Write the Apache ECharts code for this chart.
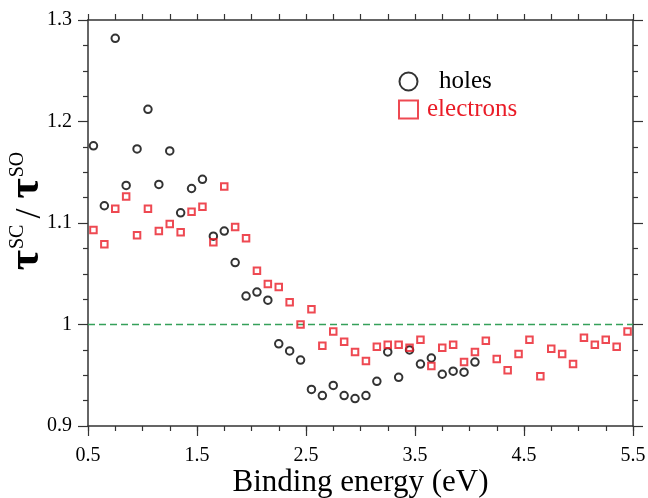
<!DOCTYPE html>
<html>
<head>
<meta charset="utf-8">
<script src="https://cdn.jsdelivr.net/npm/echarts@6/dist/echarts.min.js"></script>
<style>
  html, body { margin: 0; padding: 0; background: #fff; }
  #chart { width: 648px; height: 498px; }
</style>
</head>
<body>
<div id="chart"></div>
<script>
// binding energies (eV)
const holesX = [0.55, 0.65, 0.75, 0.85, 0.95, 1.05, 1.15, 1.25, 1.35, 1.45, 1.55, 1.65,
  1.75, 1.85, 1.95, 2.05, 2.15, 2.25, 2.35, 2.45, 2.55, 2.65, 2.75, 2.85, 2.95, 3.05,
  3.15, 3.25, 3.35, 3.45, 3.55, 3.65, 3.75, 3.85, 3.95, 4.05]
const holesY = [1.176, 1.117, 1.282, 1.137, 1.173, 1.212, 1.138, 1.171, 1.110, 1.134, 1.143, 1.087,
  1.092, 1.061, 1.028, 1.032, 1.024, 0.981, 0.974, 0.965, 0.936, 0.930, 0.940, 0.930, 0.927, 0.930,
  0.944, 0.973, 0.948, 0.975, 0.961, 0.967, 0.951, 0.954, 0.953, 0.963]

const electronsX = [0.55, 0.65, 0.75, 0.85, 0.95, 1.05, 1.15, 1.25, 1.35, 1.45, 1.55, 1.65,
  1.75, 1.85, 1.95, 2.05, 2.15, 2.25, 2.35, 2.45, 2.55, 2.65, 2.75, 2.85, 2.95, 3.05,
  3.15, 3.25, 3.35, 3.45, 3.55, 3.65, 3.75, 3.85, 3.95, 4.05, 4.15, 4.25, 4.35, 4.45,
  4.55, 4.65, 4.75, 4.85, 4.95, 5.05, 5.15, 5.25, 5.35, 5.45]
const electronsY = [1.093, 1.079, 1.114, 1.126, 1.088, 1.114, 1.092, 1.099, 1.091, 1.111, 1.116, 1.081,
  1.136, 1.096, 1.085, 1.053, 1.040, 1.037, 1.022, 1.000, 1.015, 0.979, 0.993, 0.983, 0.973, 0.964,
  0.978, 0.980, 0.980, 0.977, 0.985, 0.959, 0.977, 0.980, 0.963, 0.973, 0.984, 0.966, 0.955, 0.971,
  0.985, 0.949, 0.976, 0.971, 0.961, 0.987, 0.980, 0.985, 0.978, 0.993]

// reference line at 1
const refX = [0.5, 5.5]
const refY = [1, 1]

const xLabels = [0.5, 1.5, 2.5, 3.5, 4.5, 5.5]

const serif = '"Liberation Serif", "DejaVu Serif", serif'
const red = '#ea1c27'
const frameColor = '#666'
const tickColor = '#333'

const chart = echarts.init(document.getElementById('chart'))

const tick = (len) => ({ show: true, length: len, lineStyle: { color: tickColor, width: 1.2 } })

const option = {
  animation: false,
  backgroundColor: '#fff',
  grid: {
    left: 88,
    right: 15,
    top: 20,
    bottom: 72,
    outerBoundsMode: 'none',
    containLabel: false
  },
  legend: {
    orient: 'vertical',
    left: 398,
    top: 69,
    padding: 0,
    itemGap: 3,
    itemWidth: 19,
    itemHeight: 18,
    textStyle: {
      fontFamily: serif,
      fontSize: 25
    },
    data: [
      { name: 'holes', textStyle: { color: '#000', padding: [0, 0, 0, 16] } },
      { name: 'electrons', textStyle: { color: red, padding: [0, 0, 0, 4] } }
    ]
  },
  graphic: [
    {
      type: 'text',
      x: 27,
      y: 208,
      rotation: Math.PI / 2,
      style: {
        text: '{t|τ}{s|SC}{d|/}{t|τ}{s|SO}',
        align: 'center',
        verticalAlign: 'middle',
        rich: {
          t: { fontFamily: serif, fontWeight: 'bold', fontSize: 44, fill: '#000', lineHeight: 44, verticalAlign: 'bottom' },
          s: { fontFamily: serif, fontSize: 20, fill: '#000', lineHeight: 44, verticalAlign: 'top', padding: [3, 6, 0, 1] },
          d: { fontFamily: serif, fontSize: 36, fill: '#000', lineHeight: 44, verticalAlign: 'bottom', padding: [0, 10, 0, 0] }
        }
      }
    }
  ],
  xAxis: [
    {
      type: 'value',
      position: 'bottom',
      min: 0.5,
      max: 5.5,
      interval: 0.25,
      name: 'Binding energy (eV)',
      nameLocation: 'middle',
      nameGap: 41,
      nameMoveOverlap: false,
      nameTextStyle: { fontFamily: serif, fontSize: 31, color: '#000' },
      axisLine: { show: true, onZero: false, lineStyle: { color: '#333', width: 1.5 } },
      axisTick: tick(5),
      axisLabel: {
        customValues: xLabels,
        margin: 20,
        fontFamily: serif,
        fontSize: 20,
        color: '#000',
        formatter: (v) => v.toFixed(1)
      },
      splitLine: { show: false }
    },
    {
      type: 'value',
      position: 'bottom',
      min: 0.5,
      max: 5.5,
      axisLine: { show: false, onZero: false },
      axisTick: Object.assign(tick(10), { customValues: xLabels }),
      axisLabel: { show: false },
      splitLine: { show: false }
    },
    {
      type: 'value',
      position: 'top',
      min: 0.5,
      max: 5.5,
      interval: 0.25,
      axisLine: { show: true, onZero: false, lineStyle: { color: '#333', width: 1.5 } },
      axisTick: tick(6),
      axisLabel: { show: false },
      splitLine: { show: false }
    }
  ],
  yAxis: [
    {
      type: 'value',
      position: 'left',
      min: 0.9,
      max: 1.3,
      interval: 0.1,
      axisLine: { show: true, onZero: false, lineStyle: { color: frameColor, width: 2 } },
      axisTick: tick(10),
      minorTick: Object.assign(tick(5), { splitNumber: 4 }),
      axisLabel: {
        margin: 16,
        fontFamily: serif,
        fontSize: 20,
        color: '#000',
        formatter: (v) => String(Math.round(v * 10) / 10)
      },
      splitLine: { show: false }
    },
    {
      type: 'value',
      position: 'right',
      min: 0.9,
      max: 1.3,
      interval: 0.1,
      axisLine: { show: true, onZero: false, lineStyle: { color: frameColor, width: 2 } },
      axisTick: tick(10),
      minorTick: Object.assign(tick(5), { splitNumber: 4 }),
      axisLabel: { show: false },
      splitLine: { show: false }
    }
  ],
  series: [
    {
      name: 'ref',
      type: 'line',
      data: refX.map((x, i) => [x, refY[i]]),
      symbol: 'none',
      silent: true,
      lineStyle: { color: '#35a05a', width: 1.5, type: [7, 4] },
      z: 1
    },
    {
      name: 'holes',
      type: 'scatter',
      symbol: 'circle',
      symbolSize: 7.5,
      data: holesX.map((x, i) => [x, holesY[i]]),
      itemStyle: { color: 'rgba(0,0,0,0)', borderColor: '#000', borderWidth: 2 },
      z: 2
    },
    {
      name: 'electrons',
      type: 'scatter',
      symbol: 'rect',
      symbolSize: 6.5,
      data: electronsX.map((x, i) => [x, electronsY[i]]),
      itemStyle: { color: 'rgba(0,0,0,0)', borderColor: red, borderWidth: 2 },
      z: 3
    }
  ]
}

chart.setOption(option)
</script>
</body>
</html>
